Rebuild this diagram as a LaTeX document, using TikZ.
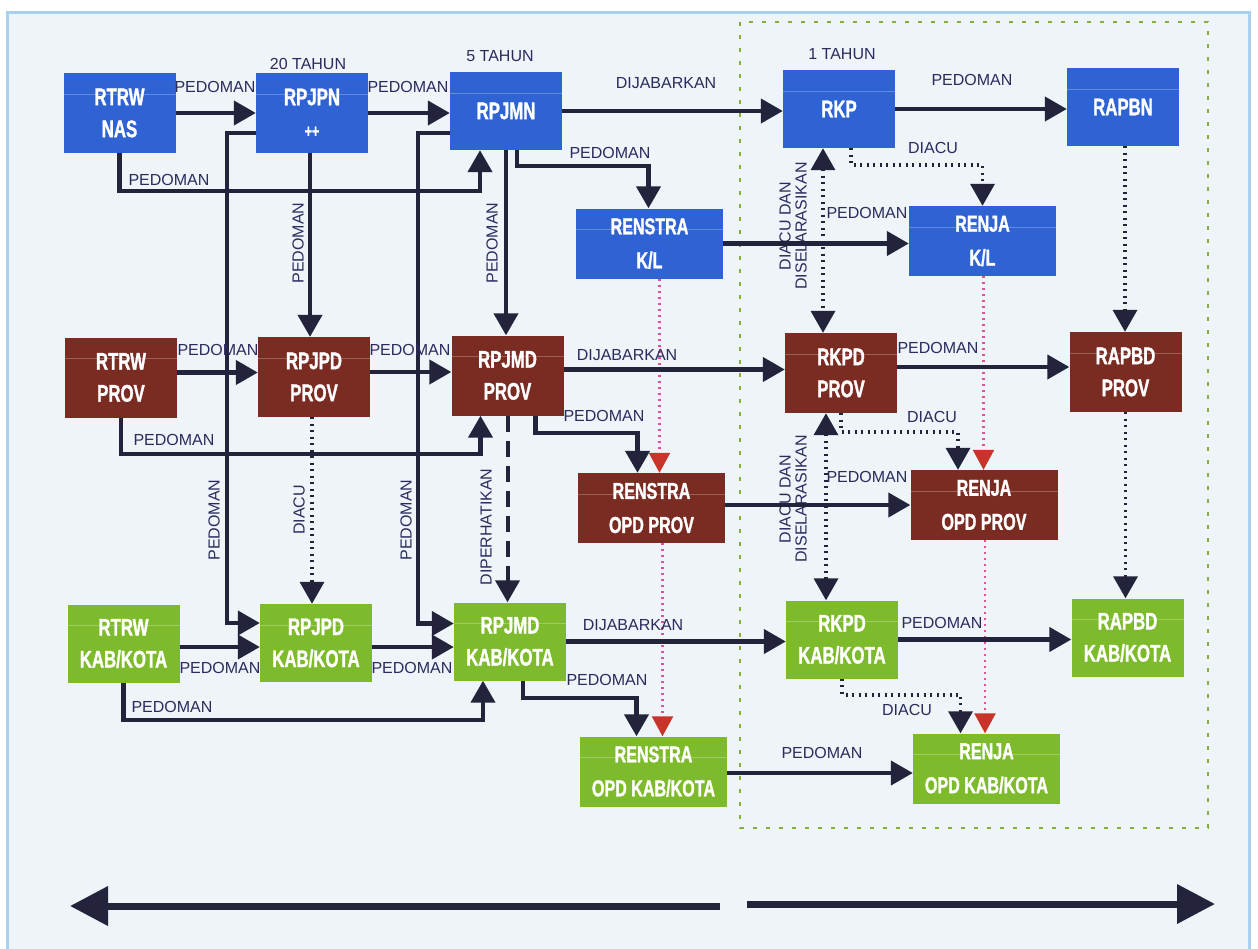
\documentclass[tikz,border=0pt]{standalone}
\usepackage{fontspec}
\setmainfont{Liberation Sans}
\newfontfamily\boxfont[FakeStretch=0.7,FakeBold=1.2]{Liberation Sans}
\usetikzlibrary{arrows.meta,calc}
\definecolor{bgc}{HTML}{EEF4F8}
\definecolor{brd}{HTML}{A9D1EE}
\definecolor{cblue}{HTML}{2F63D3}
\definecolor{cbrown}{HTML}{7A2B22}
\definecolor{cgreen}{HTML}{7EBB2C}
\definecolor{ac}{HTML}{23233C}
\definecolor{lc}{HTML}{2B2B5E}
\definecolor{pk}{HTML}{E04FA0}
\definecolor{rc}{HTML}{C8342A}
\definecolor{dg}{HTML}{86AE3A}
\tikzset{
  >={Triangle[length=22pt,width=24pt]},
  box/.style={minimum width=112pt, minimum height=80pt, inner sep=0pt, align=center,
    text=white, font=\boxfont\bfseries\fontsize{24}{32}\selectfont,
    path picture={\draw[white,opacity=0.25,line width=0.8pt]
      ([yshift=-21pt]path picture bounding box.north west) --
      ([yshift=-21pt]path picture bounding box.north east);}},
  widebox/.style={minimum width=147pt, minimum height=70pt, font=\boxfont\bfseries\fontsize{23}{34}\selectfont},
  bluebox/.style={box, fill=cblue},
  brownbox/.style={box, fill=cbrown},
  greenbox/.style={box, fill=cgreen},
  arr/.style={draw=ac, line width=4.3pt, ->},
  dotarr/.style={draw=ac, line width=3.6pt, dash pattern=on 2pt off 4.5pt, ->},
  dotdbl/.style={draw=ac, line width=3.6pt, dash pattern=on 2pt off 4.5pt, <->},
  dasharr/.style={draw=ac, line width=4pt, dash pattern=on 16pt off 9pt, ->},
  pinkarr/.style={draw=pk, line width=2.4pt, dash pattern=on 2pt off 4pt,
    -{Triangle[length=20pt,width=21pt,color=rc]}},
  bigarr/.style={draw=ac, line width=7pt, -{Triangle[length=38pt,width=38pt]}},
  lbl/.style={text=lc, font=\fontsize{16}{18}\selectfont, inner sep=0pt},
  vlbl/.style={lbl, rotate=90},
  dlbl/.style={lbl, rotate=90, align=center, font=\fontsize{16}{16}\selectfont},
}
\begin{document}
\begin{tikzpicture}[x=1pt,y=-1pt]
\useasboundingbox (0,0) rectangle (1258,948);
\fill[white] (0,0) rectangle (1258,948);
\fill[bgc] (7,12) rectangle (1249,960);
\draw[brd, line width=3pt] (7,960) -- (7,12) -- (1249,12) -- (1249,960);
\draw[dg, line width=2.5pt, dash pattern=on 4pt off 9pt] (740,22) rectangle (1208,828);

% Row 1
\node[bluebox] (rtrwnas) at (119.5,113) {RTRW\\NAS};
\node[bluebox] (rpjpn) at (312,113) {RPJPN\\{\fontsize{18}{18}\selectfont ++}};
\node[bluebox, minimum height=78pt] (rpjmn) at (506,111) {RPJMN};
\node[bluebox, minimum height=78pt] (rkp) at (839,109) {RKP};
\node[bluebox, minimum height=78pt] (rapbn) at (1123,107) {RAPBN};
\node[bluebox, widebox] (renstrakl) at (649.5,243.5) {RENSTRA\\K/L};
\node[bluebox, widebox] (renjakl) at (982.5,241) {RENJA\\K/L};
% Row 2
\node[brownbox] (rtrwprov) at (121,377.5) {RTRW\\PROV};
\node[brownbox] (rpjpdprov) at (314,377) {RPJPD\\PROV};
\node[brownbox] (rpjmdprov) at (507.5,375.5) {RPJMD\\PROV};
\node[brownbox, widebox] (renstraprov) at (651.5,508) {RENSTRA\\OPD PROV};
\node[brownbox] (rkpdprov) at (841,373) {RKPD\\PROV};
\node[brownbox] (rapbdprov) at (1125.5,372) {RAPBD\\PROV};
\node[brownbox, widebox] (renjaprov) at (984,505) {RENJA\\OPD PROV};
% Row 3
\node[greenbox, minimum height=78pt] (rtrwkab) at (123.5,643.5) {RTRW\\KAB/KOTA};
\node[greenbox, minimum height=78pt] (rpjpdkab) at (316,643) {RPJPD\\KAB/KOTA};
\node[greenbox, minimum height=78pt] (rpjmdkab) at (510,641.5) {RPJMD\\KAB/KOTA};
\node[greenbox, widebox] (renstrakab) at (653.5,771.5) {RENSTRA\\OPD KAB/KOTA};
\node[greenbox, minimum height=78pt] (rkpdkab) at (842,639.5) {RKPD\\KAB/KOTA};
\node[greenbox, minimum height=78pt] (rapbdkab) at (1127.5,637.5) {RAPBD\\KAB/KOTA};
\node[greenbox, widebox] (renjakab) at (986.5,768.5) {RENJA\\OPD KAB/KOTA};

% time labels
\node[lbl] (t20) at (308,64) {20 TAHUN};
\node[lbl] (t5) at (500,56) {5 TAHUN};
\node[lbl] (t1) at (842,54) {1 TAHUN};

% Row 1 connectors
\draw[arr] (rtrwnas.east) -- (rtrwnas.east -| rpjpn.west);
\node[lbl] (l1) at (215,87) {PEDOMAN};
\draw[arr] (rpjpn.east) -- (rpjpn.east -| rpjmn.west);
\node[lbl] (l2) at (408,87) {PEDOMAN};
\draw[arr] (rpjmn.east) -- (rpjmn.east -| rkp.west);
\node[lbl] (l3) at (666,83) {DIJABARKAN};
\draw[arr] (rkp.east) -- (rkp.east -| rapbn.west);
\node[lbl] (l4) at (972,80) {PEDOMAN};
\draw[arr] (rtrwnas.south) -- ++(0,38) -| ([xshift=-26pt]rpjmn.south);
\node[lbl] (l5) at (169,180) {PEDOMAN};
\draw[arr] ([yshift=-20pt]rpjpn.west) -- ++(-29,0) |- ([yshift=20pt]rpjpdkab.west);
\draw[arr] ([yshift=-22pt]rpjmn.west) -- ++(-32,0) |- ([yshift=18pt]rpjmdkab.west);
\node[vlbl] (v1) at (214,520) {PEDOMAN};
\node[vlbl] (v2) at (406,520) {PEDOMAN};
\draw[arr] ([xshift=-2pt]rpjpn.south) -- ([xshift=-2pt]rpjpn.south |- rpjpdprov.north);
\node[vlbl] (v3) at (298,243) {PEDOMAN};
\draw[arr] (rpjmn.south) -- (rpjmn.south |- rpjmdprov.north);
\node[vlbl] (v4) at (492,243) {PEDOMAN};
\draw[arr] ([xshift=11pt]rpjmn.south) -- ++(0,16) -| ([xshift=-1pt]renstrakl.north);
\node[lbl] (l6) at (610,153) {PEDOMAN};
\draw[dotarr] ([xshift=12pt]rkp.south) -- ++(0,17) -| (renjakl.north);
\node[lbl] (l7) at (933,148) {DIACU};
\draw[dotdbl] ([xshift=-16pt]rkp.south) -- ([xshift=-16pt]rkp.south |- rkpdprov.north);
\node[dlbl] (d1) at (793,226) {DIACU DAN\\DISELARASIKAN};
\draw[dotarr] ([xshift=2pt]rapbn.south) -- ([xshift=2pt]rapbn.south |- rapbdprov.north);
\draw[arr] (renstrakl.east) -- (renstrakl.east -| renjakl.west);
\node[lbl] (l8) at (867,213) {PEDOMAN};
\draw[pinkarr] ([xshift=10pt]renstrakl.south) -- ([xshift=10pt]renstrakl.south |- renstraprov.north);
\draw[pinkarr] ([xshift=1pt]renjakl.south) -- ([xshift=1pt]renjakl.south |- renjaprov.north);

% Row 2 connectors
\draw[arr] ([yshift=5pt]rtrwprov.east) -- ([yshift=5pt]rtrwprov.east -| rpjpdprov.west);
\node[lbl] (l9) at (218,350) {PEDOMAN};
\draw[arr] ([yshift=5pt]rpjpdprov.east) -- ([yshift=5pt]rpjpdprov.east -| rpjmdprov.west);
\node[lbl] (l10) at (410,350) {PEDOMAN};
\draw[arr] ([yshift=6pt]rpjmdprov.east) -- ([yshift=6pt]rpjmdprov.east -| rkpdprov.west);
\node[lbl] (l11) at (627,355) {DIJABARKAN};
\draw[arr] ([yshift=6pt]rkpdprov.east) -- ([yshift=6pt]rkpdprov.east -| rapbdprov.west);
\node[lbl] (l12) at (938,348) {PEDOMAN};
\draw[arr] (rtrwprov.south) -- ++(0,36) -| ([xshift=-27pt]rpjmdprov.south);
\node[lbl] (l13) at (174,440) {PEDOMAN};
\draw[dotarr] ([xshift=-2pt]rpjpdprov.south) -- ([xshift=-2pt]rpjpdprov.south |- rpjpdkab.north);
\node[vlbl] (v5) at (299,510) {DIACU};
\draw[dasharr] (rpjmdprov.south) -- (rpjmdprov.south |- rpjmdkab.north);
\node[vlbl] (v6) at (486,527) {DIPERHATIKAN};
\draw[arr] ([xshift=28pt]rpjmdprov.south) -- ++(0,17) -| ([xshift=-14pt]renstraprov.north);
\node[lbl] (l14) at (604,416) {PEDOMAN};
\draw[dotarr] (rkpdprov.south) -- ++(0,19) -| ([xshift=-26pt]renjaprov.north);
\node[lbl] (l15) at (932,417) {DIACU};
\draw[dotdbl] ([xshift=-15pt]rkpdprov.south) -- ([xshift=-15pt]rkpdprov.south |- rkpdkab.north);
\node[dlbl] (d2) at (793,499) {DIACU DAN\\DISELARASIKAN};
\draw[dotarr] (rapbdprov.south) -- (rapbdprov.south |- rapbdkab.north);
\draw[arr] ([yshift=3pt]renstraprov.east) -- ([yshift=3pt]renstraprov.east -| renjaprov.west);
\node[lbl] (l16) at (867,477) {PEDOMAN};
\draw[pinkarr] ([xshift=11pt]renstraprov.south) -- ([xshift=11pt]renstraprov.south |- renstrakab.north);
\draw[pinkarr] ([xshift=1pt]renjaprov.south) -- ([xshift=1pt]renjaprov.south |- renjakab.north);

% Row 3 connectors
\draw[arr] ([yshift=-3.5pt]rtrwkab.east) -- ([yshift=-3.5pt]rtrwkab.east -| rpjpdkab.west);
\node[lbl] (l17) at (220,668) {PEDOMAN};
\draw[arr] ([yshift=-4pt]rpjpdkab.east) -- ([yshift=-4pt]rpjpdkab.east -| rpjmdkab.west);
\node[lbl] (l18) at (412,668) {PEDOMAN};
\draw[arr] (rpjmdkab.east) -- (rpjmdkab.east -| rkpdkab.west);
\node[lbl] (l19) at (633,625) {DIJABARKAN};
\draw[arr] (rkpdkab.east) -- (rkpdkab.east -| rapbdkab.west);
\node[lbl] (l20) at (942,623) {PEDOMAN};
\draw[arr] (rtrwkab.south) -- ++(0,37) -| ([xshift=-27pt]rpjmdkab.south);
\node[lbl] (l21) at (172,707) {PEDOMAN};
\draw[arr] ([xshift=13pt]rpjmdkab.south) -- ++(0,17) -| ([xshift=-17pt]renstrakab.north);
\node[lbl] (l22) at (607,680) {PEDOMAN};
\draw[dotarr] (rkpdkab.south) -- ++(0,16) -| ([xshift=-26pt]renjakab.north);
\node[lbl] (l23) at (907,710) {DIACU};
\draw[arr] ([yshift=-1.5pt]renstrakab.east) -- ([yshift=-1.5pt]renstrakab.east -| renjakab.west);
\node[lbl] (l24) at (822,753) {PEDOMAN};

% bottom arrows
\coordinate (ba1) at (720,906);
\coordinate (ba2) at (70,906);
\coordinate (bb1) at (747,904);
\coordinate (bb2) at (1215,904);
\draw[bigarr] (ba1) -- (ba2);
\draw[bigarr] (bb1) -- (bb2);
\end{tikzpicture}
\end{document}
